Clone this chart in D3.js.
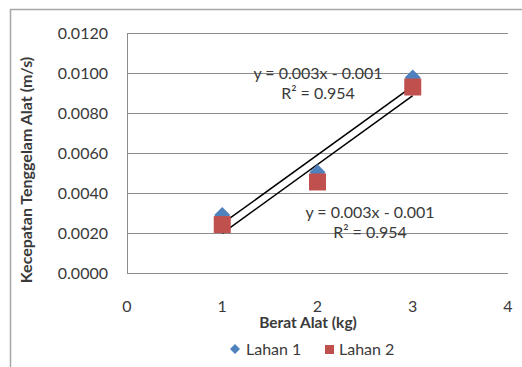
<!DOCTYPE html>
<html>
<head>
<meta charset="utf-8">
<script src="https://cdn.jsdelivr.net/npm/d3@7"></script>
<style>
  html, body { margin: 0; padding: 0; background: #fff; }
  svg { display: block; font-family: Lato, "Open Sans", sans-serif; }
</style>
</head>
<body>
<svg id="chart" width="522" height="367"></svg>
<script>
// Berat alat (kg) on the x axis
const beratAlat = [1, 2, 3];
// Kecepatan tenggelam alat (m/s) per lahan
const lahan1 = [0.0029, 0.005032, 0.00978];
const lahan2 = [0.00242, 0.004552, 0.0093];
const seriesNames = ["Lahan 1", "Lahan 2"];
const xTicks = [0, 1, 2, 3, 4];
const yTicks = [0, 0.002, 0.004, 0.006, 0.008, 0.010, 0.012];

const svg = d3.select("#chart");
const W = 522, H = 367;
const plot = { left: 127, right: 508, top: 33, bottom: 273 };

const x = d3.scaleLinear().domain([0, 4]).range([plot.left, plot.right]);
const y = d3.scaleLinear().domain([0, 0.012]).range([plot.bottom, plot.top]);

const gridColor = "#8c8c8c";
const textColor = "#3a3a3a";

// chart frame
svg.append("path")
  .attr("d", `M10.5,${H} L10.5,9.5 L${W},9.5`)
  .attr("fill", "none").attr("stroke", "#a6a6a6").attr("stroke-width", 1.5);

// horizontal gridlines
svg.append("g").selectAll("line").data(yTicks).join("line")
  .attr("x1", plot.left).attr("x2", plot.right)
  .attr("y1", d => Math.round(y(d)) + 0.5).attr("y2", d => Math.round(y(d)) + 0.5)
  .attr("stroke", gridColor).attr("stroke-width", 1);

// y axis line
svg.append("line")
  .attr("x1", plot.left + 0.5).attr("x2", plot.left + 0.5)
  .attr("y1", plot.top).attr("y2", plot.bottom + 0.5)
  .attr("stroke", gridColor).attr("stroke-width", 1);

// y tick labels
const fmtY = d3.format(".4f");
svg.append("g").selectAll("text").data(yTicks).join("text")
  .attr("x", 108).attr("y", d => y(d))
  .attr("dy", "0.35em").attr("text-anchor", "end")
  .attr("font-size", 16).attr("fill", textColor)
  .text(d => fmtY(d));

// x tick labels
svg.append("g").selectAll("text").data(xTicks).join("text")
  .attr("x", d => x(d)).attr("y", 306)
  .attr("dy", "0.35em").attr("text-anchor", "middle")
  .attr("font-size", 16).attr("fill", textColor)
  .text(d => d);

// axis titles
svg.append("text")
  .attr("x", 308).attr("y", 323).attr("dy", "0.35em")
  .attr("text-anchor", "middle").attr("font-size", 15.5).attr("font-weight", "bold")
  .attr("fill", textColor).text("Berat Alat (kg)");

svg.append("text")
  .attr("transform", "translate(26,170) rotate(-90)")
  .attr("dy", "0.35em").attr("text-anchor", "middle")
  .attr("font-size", 16).attr("font-weight", "bold")
  .attr("fill", textColor).text("Kecepatan Tenggelam Alat (m/s)");

// least-squares linear fit with coefficient of determination
function linearFit(xs, ys) {
  const n = xs.length;
  const mx = d3.mean(xs), my = d3.mean(ys);
  let sxy = 0, sxx = 0, syy = 0;
  for (let i = 0; i < n; i++) {
    sxy += (xs[i] - mx) * (ys[i] - my);
    sxx += (xs[i] - mx) ** 2;
    syy += (ys[i] - my) ** 2;
  }
  const slope = sxy / sxx;
  const intercept = my - slope * mx;
  const r2 = (sxy * sxy) / (sxx * syy);
  return { slope, intercept, r2 };
}

const series = [
  { name: seriesNames[0], values: lahan1, color: "#4f81bd", shape: "diamond",
    label: { x: 318, y: 73 } },
  { name: seriesNames[1], values: lahan2, color: "#c0504d", shape: "square",
    label: { x: 370, y: 212 } }
];

const fmt3 = d3.format(".3f");

// trendlines
series.forEach(s => {
  s.fit = linearFit(beratAlat, s.values);
  const x0 = d3.min(beratAlat), x1 = d3.max(beratAlat);
  svg.append("line")
    .attr("x1", x(x0)).attr("y1", y(s.fit.slope * x0 + s.fit.intercept))
    .attr("x2", x(x1)).attr("y2", y(s.fit.slope * x1 + s.fit.intercept))
    .attr("stroke", "#000").attr("stroke-width", 1.5);
});

// markers
const diamond = (cx, cy, r) => `M${cx},${cy - r} L${cx + r},${cy} L${cx},${cy + r} L${cx - r},${cy} Z`;
series.forEach(s => {
  const g = svg.append("g");
  if (s.shape === "diamond") {
    g.selectAll("path").data(beratAlat.map((b, i) => [b, s.values[i]])).join("path")
      .attr("d", d => diamond(x(d[0]), y(d[1]), 8))
      .attr("fill", s.color);
  } else {
    g.selectAll("rect").data(beratAlat.map((b, i) => [b, s.values[i]])).join("rect")
      .attr("x", d => x(d[0]) - 8.5).attr("y", d => y(d[1]) - 8.5)
      .attr("width", 17).attr("height", 17)
      .attr("fill", s.color);
  }
});

// trendline equations
series.forEach(s => {
  const f = s.fit;
  const sign = f.intercept < 0 ? " - " : " + ";
  const eq = `y = ${fmt3(f.slope)}x${sign}${fmt3(Math.abs(f.intercept))}`;
  svg.append("text")
    .attr("x", s.label.x).attr("y", s.label.y).attr("dy", "0.35em")
    .attr("text-anchor", "middle").attr("font-size", 16).attr("fill", textColor)
    .text(eq);
  svg.append("text")
    .attr("x", s.label.x).attr("y", s.label.y + 20).attr("dy", "0.35em")
    .attr("text-anchor", "middle").attr("font-size", 16).attr("fill", textColor)
    .text("R\u00b2 = " + fmt3(f.r2));
});

// legend
const legend = svg.append("g");
legend.append("path").attr("d", diamond(235, 349, 5)).attr("fill", series[0].color);
legend.append("text").attr("x", 246).attr("y", 349).attr("dy", "0.35em")
  .attr("font-size", 16).attr("fill", textColor).text(series[0].name);
legend.append("rect").attr("x", 325).attr("y", 345).attr("width", 9).attr("height", 9)
  .attr("fill", series[1].color);
legend.append("text").attr("x", 339).attr("y", 349).attr("dy", "0.35em")
  .attr("font-size", 16).attr("fill", textColor).text(series[1].name);
</script>
</body>
</html>
